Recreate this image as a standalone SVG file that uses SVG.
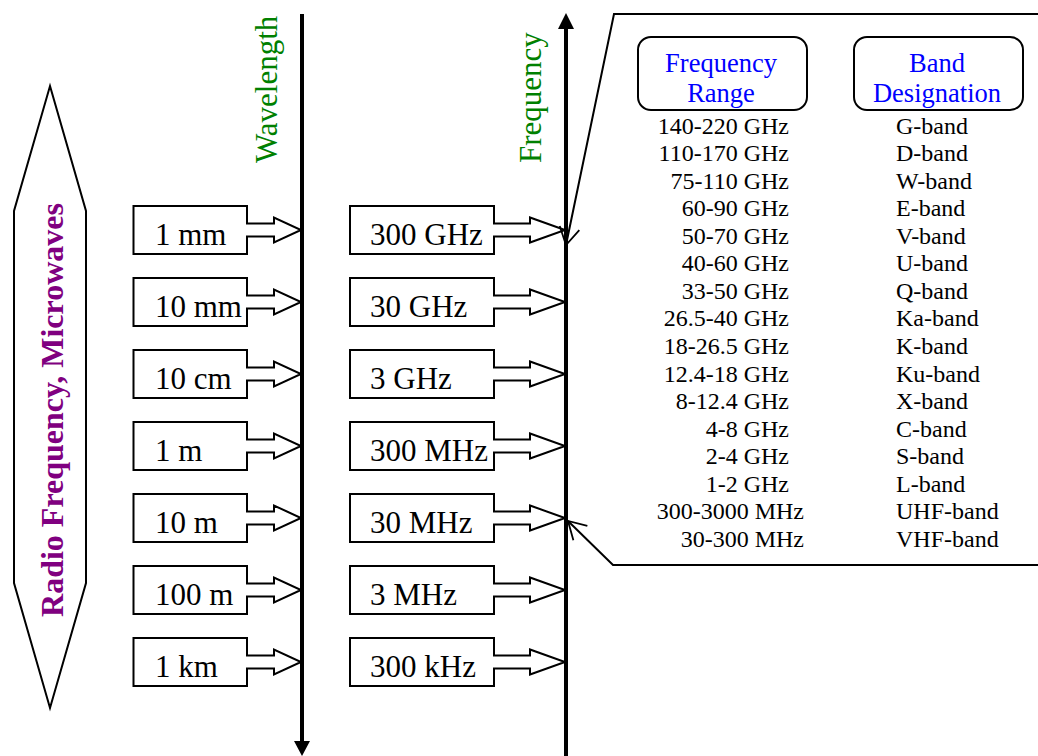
<svg xmlns="http://www.w3.org/2000/svg" width="1038" height="756" viewBox="0 0 1038 756">
<defs>
<style>
.bx{fill:#fff;stroke:#000;stroke-width:2}
.lbl{font-family:"Liberation Serif","Times New Roman",serif;font-size:31px;fill:#000}
.ax{stroke:#000;stroke-width:4}
.axt{font-family:"Liberation Serif","Times New Roman",serif;font-size:31px;fill:#008000}
.co{fill:none;stroke:#000;stroke-width:2}
.hd{fill:#fff;stroke:#000;stroke-width:2}
.ht{font-family:"Liberation Serif","Times New Roman",serif;font-size:26.5px;fill:#0000ff;text-anchor:middle}
.tr{font-family:"Liberation Serif","Times New Roman",serif;font-size:24px;fill:#000}
.fr{text-anchor:end}
</style>
<marker id="open" markerUnits="userSpaceOnUse" viewBox="0 0 24 24" markerWidth="24" markerHeight="24" refX="20" refY="12" orient="auto">
<path d="M2.7,2 L20,12 L2.7,22" fill="none" stroke="#000" stroke-width="1.8"/>
</marker>
</defs>
<rect width="1038" height="756" fill="#fff"/>

<g id="rf-band">
<polygon points="50,86 86,211 86,583 50,708 14,583 14,211" fill="#fff" stroke="#000" stroke-width="2"/>
<text transform="translate(63,410) rotate(-90)" text-anchor="middle" font-family="Liberation Serif, Times New Roman, serif" font-size="32" font-weight="bold" fill="#800080">Radio Frequency, Microwaves</text>
</g>

<g id="wavelength-axis">
<line class="ax" x1="302" y1="14" x2="302" y2="742"/>
<polygon points="294,741 310,741 302,756" fill="#000"/>
<text class="axt" transform="translate(277,163) rotate(-90)">Wavelength</text>
</g>

<g id="frequency-axis">
<line class="ax" x1="566" y1="28" x2="566" y2="756"/>
<polygon points="558,29 574,29 566,13" fill="#000"/>
<text class="axt" transform="translate(541,163) rotate(-90)">Frequency</text>
</g>

<g id="wl-1mm"><path class="bx" d="M133.5,206 H247 V223.5 H274 V217.5 L301,230 L274,242.5 V236.5 H247 V254 H133.5 Z"/><text class="lbl" x="155" y="245">1 mm</text></g>
<g id="wl-10mm"><path class="bx" d="M133.5,278 H247 V295.5 H274 V289.5 L301,302 L274,314.5 V308.5 H247 V326 H133.5 Z"/><text class="lbl" x="155" y="317">10 mm</text></g>
<g id="wl-10cm"><path class="bx" d="M133.5,350 H247 V367.5 H274 V361.5 L301,374 L274,386.5 V380.5 H247 V398 H133.5 Z"/><text class="lbl" x="155" y="389">10 cm</text></g>
<g id="wl-1m"><path class="bx" d="M133.5,422 H247 V439.5 H274 V433.5 L301,446 L274,458.5 V452.5 H247 V470 H133.5 Z"/><text class="lbl" x="155" y="461">1 m</text></g>
<g id="wl-10m"><path class="bx" d="M133.5,494 H247 V511.5 H274 V505.5 L301,518 L274,530.5 V524.5 H247 V542 H133.5 Z"/><text class="lbl" x="155" y="533">10 m</text></g>
<g id="wl-100m"><path class="bx" d="M133.5,566 H247 V583.5 H274 V577.5 L301,590 L274,602.5 V596.5 H247 V614 H133.5 Z"/><text class="lbl" x="155" y="605">100 m</text></g>
<g id="wl-1km"><path class="bx" d="M133.5,638 H247 V655.5 H274 V649.5 L301,662 L274,674.5 V668.5 H247 V686 H133.5 Z"/><text class="lbl" x="155" y="677">1 km</text></g>

<g id="f-300GHz"><path class="bx" d="M350,206 H494 V223.5 H530 V217.5 L565,230 L530,242.5 V236.5 H494 V254 H350 Z"/><text class="lbl" x="370" y="245">300 GHz</text></g>
<g id="f-30GHz"><path class="bx" d="M350,278 H494 V295.5 H530 V289.5 L565,302 L530,314.5 V308.5 H494 V326 H350 Z"/><text class="lbl" x="370" y="317">30 GHz</text></g>
<g id="f-3GHz"><path class="bx" d="M350,350 H494 V367.5 H530 V361.5 L565,374 L530,386.5 V380.5 H494 V398 H350 Z"/><text class="lbl" x="370" y="389">3 GHz</text></g>
<g id="f-300MHz"><path class="bx" d="M350,422 H494 V439.5 H530 V433.5 L565,446 L530,458.5 V452.5 H494 V470 H350 Z"/><text class="lbl" x="370" y="461">300 MHz</text></g>
<g id="f-30MHz"><path class="bx" d="M350,494 H494 V511.5 H530 V505.5 L565,518 L530,530.5 V524.5 H494 V542 H350 Z"/><text class="lbl" x="370" y="533">30 MHz</text></g>
<g id="f-3MHz"><path class="bx" d="M350,566 H494 V583.5 H530 V577.5 L565,590 L530,602.5 V596.5 H494 V614 H350 Z"/><text class="lbl" x="370" y="605">3 MHz</text></g>
<g id="f-300kHz"><path class="bx" d="M350,638 H494 V655.5 H530 V649.5 L565,662 L530,674.5 V668.5 H494 V686 H350 Z"/><text class="lbl" x="370" y="677">300 kHz</text></g>

<g id="connectors">
<path class="co" d="M1045,14 H614 L566,245" marker-end="url(#open)"/>
<path class="co" d="M1045,565 H613 L568,521" marker-end="url(#open)"/>
</g>

<g id="hdr-range">
<rect class="hd" x="638" y="37" width="169" height="73" rx="13"/>
<text class="ht" x="721" y="72">Frequency</text>
<text class="ht" x="721" y="102">Range</text>
</g>
<g id="hdr-band">
<rect class="hd" x="854" y="37" width="169" height="73" rx="13"/>
<text class="ht" x="937" y="72">Band</text>
<text class="ht" x="937" y="102">Designation</text>
</g>

<g id="table">
<text class="tr fr" x="789" y="133.5">140-220 GHz</text><text class="tr" x="896" y="133.5">G-band</text>
<text class="tr fr" x="789" y="161">110-170 GHz</text><text class="tr" x="896" y="161">D-band</text>
<text class="tr fr" x="789" y="188.6">75-110 GHz</text><text class="tr" x="896" y="188.6">W-band</text>
<text class="tr fr" x="789" y="216.2">60-90 GHz</text><text class="tr" x="896" y="216.2">E-band</text>
<text class="tr fr" x="789" y="243.7">50-70 GHz</text><text class="tr" x="896" y="243.7">V-band</text>
<text class="tr fr" x="789" y="271.3">40-60 GHz</text><text class="tr" x="896" y="271.3">U-band</text>
<text class="tr fr" x="789" y="298.8">33-50 GHz</text><text class="tr" x="896" y="298.8">Q-band</text>
<text class="tr fr" x="789" y="326.4">26.5-40 GHz</text><text class="tr" x="896" y="326.4">Ka-band</text>
<text class="tr fr" x="789" y="353.9">18-26.5 GHz</text><text class="tr" x="896" y="353.9">K-band</text>
<text class="tr fr" x="789" y="381.5">12.4-18 GHz</text><text class="tr" x="896" y="381.5">Ku-band</text>
<text class="tr fr" x="789" y="409">8-12.4 GHz</text><text class="tr" x="896" y="409">X-band</text>
<text class="tr fr" x="789" y="436.6">4-8 GHz</text><text class="tr" x="896" y="436.6">C-band</text>
<text class="tr fr" x="789" y="464.1">2-4 GHz</text><text class="tr" x="896" y="464.1">S-band</text>
<text class="tr fr" x="789" y="491.7">1-2 GHz</text><text class="tr" x="896" y="491.7">L-band</text>
<text class="tr fr" x="804" y="519.2">300-3000 MHz</text><text class="tr" x="896" y="519.2">UHF-band</text>
<text class="tr fr" x="804" y="546.8">30-300 MHz</text><text class="tr" x="896" y="546.8">VHF-band</text>
</g>
</svg>
